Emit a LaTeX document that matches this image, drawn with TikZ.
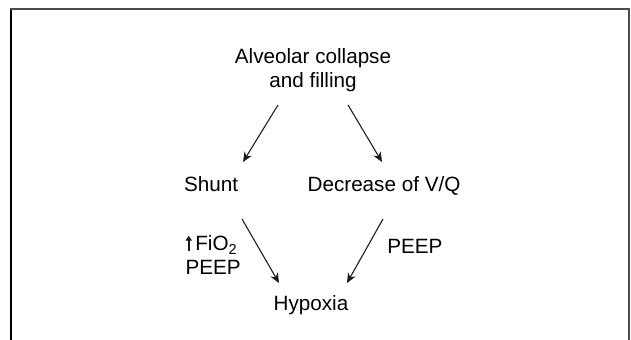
\documentclass[tikz,border=0pt]{standalone}
\usepackage{fontspec}
\setmainfont{Liberation Sans}
\usepackage{tikz}
\usetikzlibrary{arrows.meta}
\pgfdeclarelayer{nodelayer}
\pgfdeclarelayer{edgelayer}
\pgfsetlayers{edgelayer,nodelayer,main}
\tikzstyle{none}=[inner sep=0pt, font=\fontsize{14.7}{17.1}\selectfont]
\tikzset{arr/.style={line width=0.75pt, color=black!90, -{Stealth[length=7pt, width=6pt]}}}
\tikzset{frame/.style={line width=1.3pt, color=black!70}}
\newcommand{\uparr}{\tikz[baseline=0pt]\draw[line width=1.5pt, color=black!90, -{Triangle[length=3.5pt, width=4.5pt]}] (0,0) -- (0,10.8pt);\,}
\begin{document}
\begin{tikzpicture}
        \useasboundingbox (0,0) rectangle (15.775,-8.5);
        % frame, open at the bottom
        \draw [line width=0.9pt] (0.275,-8.6) -- (0.275,-0.225);
        \draw [frame] (0.26,-0.225) -- (15.725,-0.225) -- (15.725,-8.6);
        \begin{pgfonlayer}{nodelayer}
            \node [style=none, anchor=base, align=center] (0) at (7.825,-2.2) {Alveolar collapse\\and filling};
            \node [style=none, anchor=base] (1) at (5.275,-4.8) {Shunt};
            \node [style=none, anchor=base] (2) at (9.6,-4.8) {Decrease of V/Q};
            \node [style=none, anchor=base] (3) at (7.775,-7.75) {Hypoxia};
            \node [style=none, anchor=base east, align=left] (4) at (6.025,-6.875) {\uparr FiO\textsubscript{2}\\PEEP};
            \node [style=none, anchor=base west] (5) at (9.675,-6.35) {PEEP};
            \coordinate (10) at (6.95,-2.625);
            \coordinate (11) at (6.075,-4.05);
            \coordinate (12) at (8.7,-2.625);
            \coordinate (13) at (9.55,-4.05);
            \coordinate (14) at (6.05,-5.475);
            \coordinate (15) at (6.975,-7.075);
            \coordinate (16) at (9.575,-5.475);
            \coordinate (17) at (8.675,-7.075);
        \end{pgfonlayer}
        \begin{pgfonlayer}{edgelayer}
            \draw [arr] (10) to (11);
            \draw [arr] (12) to (13);
            \draw [arr] (14) to (15);
            \draw [arr] (16) to (17);
        \end{pgfonlayer}
    \end{tikzpicture}
\end{document}
